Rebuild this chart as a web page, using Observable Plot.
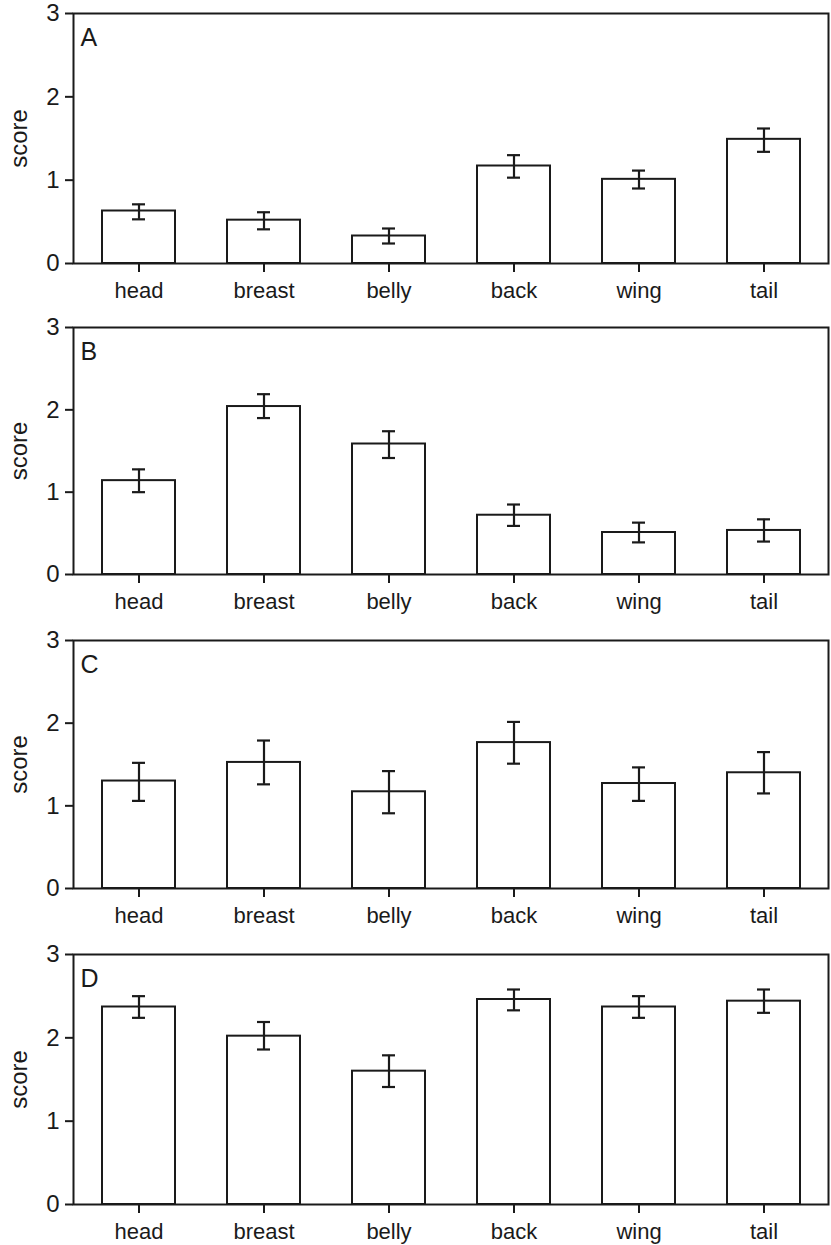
<!DOCTYPE html>
<html><head><meta charset="utf-8">
<script src="https://cdn.jsdelivr.net/npm/d3@7"></script>
<script src="https://cdn.jsdelivr.net/npm/@observablehq/plot@0.6"></script>
<style>body{margin:0;background:#fff} #chart svg{display:block}</style>
</head><body><div id="chart"></div>
<script>
const regions = ["head", "breast", "belly", "back", "wing", "tail"];
const panelLetters = ["A", "B", "C", "D"];
const yTicks = [0, 1, 2, 3];

const meanA = [0.63, 0.52, 0.33, 1.17, 1.01, 1.49];
const lowA  = [0.53, 0.41, 0.24, 1.03, 0.90, 1.34];
const highA = [0.71, 0.615, 0.42, 1.30, 1.115, 1.62];

const meanB = [1.14, 2.04, 1.585, 0.72, 0.51, 0.535];
const lowB  = [1.00, 1.90, 1.415, 0.59, 0.39, 0.40];
const highB = [1.277, 2.19, 1.74, 0.85, 0.63, 0.67];

const meanC = [1.30, 1.525, 1.17, 1.765, 1.27, 1.40];
const lowC  = [1.06, 1.26, 0.91, 1.51, 1.06, 1.15];
const highC = [1.52, 1.79, 1.42, 2.015, 1.465, 1.65];

const meanD = [2.37, 2.02, 1.60, 2.46, 2.37, 2.44];
const lowD  = [2.24, 1.86, 1.41, 2.33, 2.24, 2.30];
const highD = [2.50, 2.19, 1.79, 2.58, 2.50, 2.58];

const series = [[meanA, lowA, highA], [meanB, lowB, highB], [meanC, lowC, highC], [meanD, lowD, highD]];

// layout (not data)
const heights = [314, 313, 314, 304];
const marginTops = [13, 13, 13, 13];
const marginBottoms = [51, 53, 53, 41];

const ink = "#1a1a1a";
const font = "'Liberation Sans', Arial, Helvetica, sans-serif";
const chart = document.getElementById("chart");

series.forEach(([mean, low, high], i) => {
  const rows = regions.map((r, j) => ({region: r, mean: mean[j], low: low[j], high: high[j]}));
  const svg = Plot.plot({
    width: 831,
    height: heights[i],
    marginTop: marginTops[i],
    marginBottom: marginBottoms[i],
    marginLeft: 73,
    marginRight: 3,
    style: {fontFamily: font, color: ink, background: "white"},
    x: {domain: regions, paddingInner: 0.42, paddingOuter: 0.21, label: null},
    y: {domain: [0, 3], label: null},
    marks: [
      Plot.barY(rows, {x: "region", y: "mean", fill: "white", stroke: ink, strokeWidth: 2}),
      Plot.ruleX(rows, {x: "region", y1: "low", y2: "high", stroke: ink, strokeWidth: 2.2}),
      Plot.tickY(rows, {x: "region", y: "low", stroke: ink, strokeWidth: 2.2, insetLeft: 30, insetRight: 30}),
      Plot.tickY(rows, {x: "region", y: "high", stroke: ink, strokeWidth: 2.2, insetLeft: 30, insetRight: 30}),
      Plot.frame({stroke: ink, strokeWidth: 2}),
      Plot.axisY({ticks: yTicks, tickFormat: d3.format("d"), tickSize: 8, tickPadding: 6, strokeWidth: 2, fontSize: 24, label: null}),
      Plot.axisX({tickSize: 9, tickPadding: 10, strokeWidth: 2, fontSize: 22, label: null}),
      Plot.text([panelLetters[i]], {frameAnchor: "top-left", dx: 7, dy: 15, fontSize: 25, fill: ink}),
      Plot.text(["score"], {frameAnchor: "left", dx: -54, rotate: -90, textAnchor: "middle", lineAnchor: "middle", fontSize: 24, fill: ink})
    ]
  });
  chart.appendChild(svg);
});
</script>
</body></html>
